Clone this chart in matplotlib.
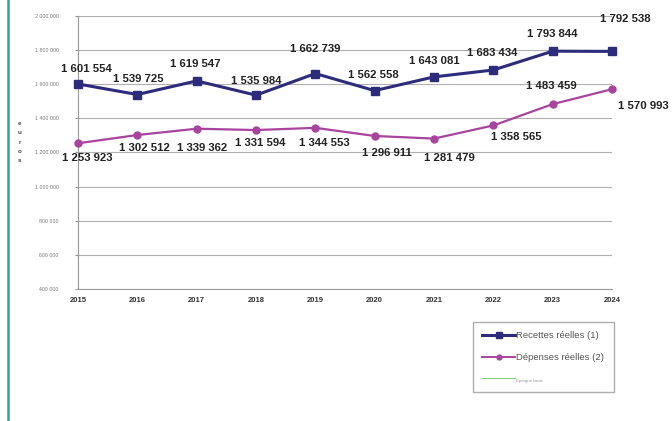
import numpy as np
import matplotlib
matplotlib.use('Agg')
import matplotlib.pyplot as plt
from matplotlib.lines import Line2D

plt.rcParams['font.family'] = ['Liberation Sans', 'DejaVu Sans']

annees = [2015, 2016, 2017, 2018, 2019, 2020, 2021, 2022, 2023, 2024]
recettes = [1601554, 1539725, 1619547, 1535984, 1662739, 1562558, 1643081, 1683434, 1793844, 1792538]
depenses = [1253923, 1302512, 1339362, 1331594, 1344553, 1296911, 1281479, 1358565, 1483459, 1570993]
noms_series = ['Recettes réelles (1)', 'Dépenses réelles (2)', 'Epargne brute']
yticks = np.arange(400000, 2000001, 200000)

# decalage des etiquettes (pixels)
dec_rec = [(8, 15), (1, 16), (-1, 17), (0, 14), (0, 25), (-1, 16), (0, 16), (-1, 17), (0, 17), (13, 32)]
dec_dep = [(9, -15), (7, -13), (5, -19), (4, -13), (9, -15), (12, -17), (15, -19), (23, -12), (-1, 18), (31, -17)]

bleu = '#2d2b7c'
violet = '#a8449e'

def fmt(v):
    return '{:,}'.format(int(v)).replace(',', ' ')

fig = plt.figure(figsize=(6.72, 4.21), dpi=100)
ax = fig.add_axes([78/672, 1-289/421, (612-78)/672, (289-16)/421])

ax.plot(annees, recettes, color=bleu, lw=2.2, marker='s', ms=5.5, clip_on=False, zorder=4)
ax.plot(annees, depenses, color=violet, lw=1.6, marker='o', ms=5, clip_on=False, zorder=4)

for x, v, d in zip(annees, recettes, dec_rec):
    ax.annotate(fmt(v), (x, v), xytext=d, textcoords='offset pixels', ha='center', va='center',
                fontsize=8.2, fontweight='bold', color='#222222', annotation_clip=False)
for x, v, d in zip(annees, depenses, dec_dep):
    ax.annotate(fmt(v), (x, v), xytext=d, textcoords='offset pixels', ha='center', va='center',
                fontsize=8.2, fontweight='bold', color='#222222', annotation_clip=False)

ax.set_xlim(2015, 2024)
ax.set_ylim(400000, 2000000)
ax.set_yticks(yticks)
ax.set_yticklabels([fmt(v) for v in yticks], fontsize=3.8, color='#777777')
ax.set_xticks(annees)
ax.set_xticklabels([str(a) for a in annees], fontsize=5.5, fontweight='bold', color='#333333')
ax.tick_params(axis='y', length=2, pad=12, color='#999999')
ax.tick_params(axis='x', length=0, pad=6)
ax.grid(axis='y', color='#b0b0b0', lw=0.8)
for s in ['top', 'right']:
    ax.spines[s].set_visible(False)
ax.spines['left'].set_color('#999999')
ax.spines['bottom'].set_color('#999999')

fig.text(20/672, 1-142/421, 'e\nu\nr\no\ns', fontsize=4.5, fontweight='bold', color='#444444',
         ha='center', va='center', linespacing=2.1)

poignees = [Line2D([], [], color=bleu, lw=2.2, marker='s', ms=4),
            Line2D([], [], color=violet, lw=1.4, marker='o', ms=3.5),
            Line2D([], [], color='#7fd07f', lw=0.8)]
leg = ax.legend(poignees, noms_series, loc='upper left', bbox_to_anchor=(473/672, 1-322/421),
                bbox_transform=fig.transFigure, fontsize=6.8, frameon=True, fancybox=False,
                edgecolor='#999999', handlelength=3.4, handletextpad=0.2, labelspacing=1.35,
                borderpad=1.0, borderaxespad=0)
leg.get_frame().set_linewidth(1.0)
for t in leg.get_texts():
    t.set_color('#555555')
leg.get_texts()[2].set_fontsize(3.2)
leg.get_texts()[2].set_color('#999999')

fig.add_artist(Line2D([8/672, 8/672], [0, 1], color='#2aa3ad', lw=1.8, transform=fig.transFigure))

fig.savefig('out.png', dpi=100)
